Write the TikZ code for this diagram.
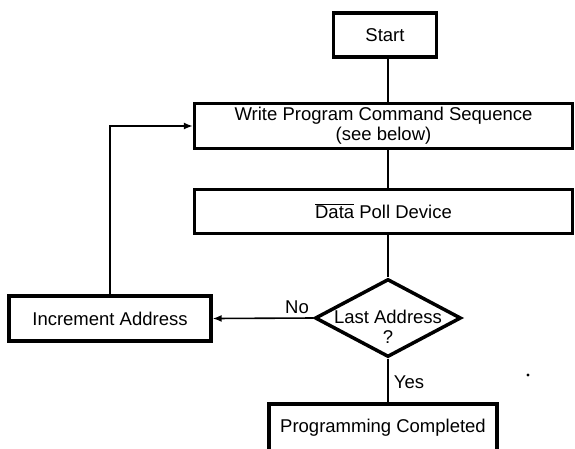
\documentclass[tikz,border=0pt]{standalone}
\usepackage{fontspec}
\setmainfont{Liberation Sans}
\usetikzlibrary{arrows.meta,shapes.geometric}
\begin{document}
\begin{tikzpicture}[x=1pt,y=-1pt,
  every node/.style={font=\fontsize{18.5}{20}\selectfont},
  stepbox/.style={draw,line width=3.3pt,inner sep=0pt,align=center},
  decision/.style={draw,diamond,line width=3.5pt,inner sep=0pt,minimum width=146pt,minimum height=78pt},
  conn/.style={line width=1.6pt},
  arr/.style={conn,-{Latex[length=9pt,width=7pt]}},
  lbl/.style={inner sep=0pt}]
\useasboundingbox (0,0) rectangle (575,448);
\node[stepbox,minimum width=103pt,minimum height=44pt] (start) at (385,35) {Start};
\node[stepbox,minimum width=378pt,minimum height=45pt] (write) at (383.5,126) {Write Program Command Sequence\\(see below)};
\node[stepbox,minimum width=378pt,minimum height=44pt] (poll) at (383.5,211.5) {$\overline{\hbox{Data}}$ Poll Device};
\node[decision] (dec) at (388,318) {};
\node[lbl,align=center] (dectext) at (388,327) {Last Address\\?};
\node[stepbox,minimum width=202pt,minimum height=45pt] (inc) at (110,318.5) {Increment Address};
\node[stepbox,minimum width=228pt,minimum height=52pt] (done) at (383,430) {};
\node[lbl] (donetext) at (383,428) {Programming Completed};
\draw[conn] (start.south -| dec.north) -- (write.north -| dec.north);
\draw[conn] (write.south -| dec.north) -- (poll.north -| dec.north);
\draw[conn] (poll.south -| dec.north) -- (dec.north);
\draw[conn] (dec.south) -- (done.north -| dec.south);
\draw[arr] (dec.west) -- (inc.east);
\draw[arr] (inc.north) |- (write.west);
\node[lbl] (no) at (297,307) {No};
\node[lbl] (yes) at (409,382) {Yes};
\fill (528,375) circle (1.6pt);
\end{tikzpicture}
\end{document}
